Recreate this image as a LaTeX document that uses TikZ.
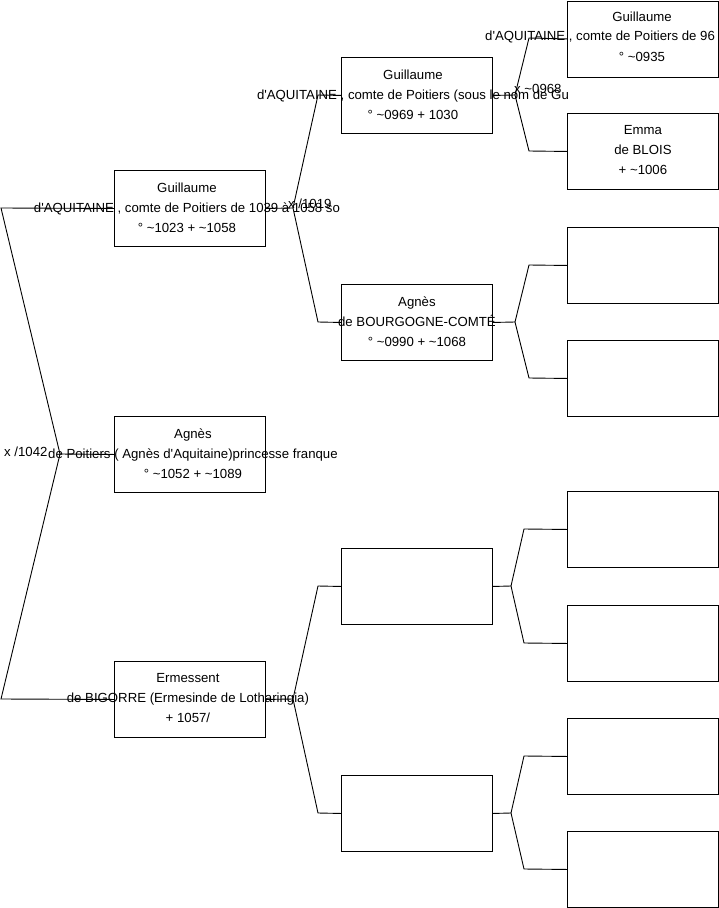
\documentclass[tikz,border=0pt]{standalone}
\usepackage{fontspec}
\setmainfont{Liberation Sans}
\newcommand{\ap}{\textquotesingle}
\begin{document}
\begin{tikzpicture}[x=1pt,y=-1pt,
  box/.style={draw=black,line width=0.9pt,rectangle,minimum width=151pt,minimum height=76pt,inner sep=0pt,anchor=north west},
  txt/.style={align=center,inner sep=0pt,font=\fontsize{13.2}{20}\selectfont},
  lbl/.style={anchor=west,inner sep=0pt,font=\fontsize{13.2}{20}\selectfont},
  link/.style={draw=black,line width=0.9pt}]
\useasboundingbox (0,0) rectangle (719,908);
% level 1
\node[box] (a1) at (114,170) {};
\node[box] (a2) at (114,416) {};
\node[box] (a3) at (114,661) {};
% level 2
\node[box] (b1) at (341,57) {};
\node[box] (b2) at (341,284) {};
\node[box] (b3) at (341,548) {};
\node[box] (b4) at (341,775) {};
% level 3
\node[box] (c1) at (567,0.5) {};
\node[box] (c2) at (567,113) {};
\node[box] (c3) at (567,227) {};
\node[box] (c4) at (567,340) {};
\node[box] (c5) at (567,491) {};
\node[box] (c6) at (567,605) {};
\node[box] (c7) at (567,718) {};
\node[box] (c8) at (567,831) {};
% fork points
\coordinate (j0) at (60,454);
\coordinate (p01) at (1,208);
\coordinate (p03) at (1,699);
\coordinate (j1) at (293,208);
\coordinate (p11) at (318,95);
\coordinate (p12) at (318,322);
\coordinate (j2) at (293,699);
\coordinate (p23) at (318,586);
\coordinate (p24) at (318,813);
\coordinate (k1) at (515,95);
\coordinate (q11) at (529,38);
\coordinate (q12) at (529,151);
\coordinate (k2) at (515,322);
\coordinate (q23) at (529,265);
\coordinate (q24) at (529,378);
\coordinate (k3) at (511,586);
\coordinate (q35) at (524,529);
\coordinate (q36) at (524,643);
\coordinate (k4) at (511,813);
\coordinate (q47) at (524,756);
\coordinate (q48) at (524,869);
% connectors
\draw[link] (a2.west) -- (j0) -- (p01) -- (a1.west);
\draw[link] (j0) -- (p03) -- (a3.west);
\draw[link] (a1.east) -- (j1) -- (p11) -- (b1.west);
\draw[link] (j1) -- (p12) -- (b2.west);
\draw[link] (a3.east) -- (j2) -- (p23) -- (b3.west);
\draw[link] (j2) -- (p24) -- (b4.west);
\draw[link] (b1.east) -- (k1) -- (q11) -- (c1.west);
\draw[link] (k1) -- (q12) -- (c2.west);
\draw[link] (b2.east) -- (k2) -- (q23) -- (c3.west);
\draw[link] (k2) -- (q24) -- (c4.west);
\draw[link] (b3.east) -- (k3) -- (q35) -- (c5.west);
\draw[link] (k3) -- (q36) -- (c6.west);
\draw[link] (b4.east) -- (k4) -- (q47) -- (c7.west);
\draw[link] (k4) -- (q48) -- (c8.west);
% texts
\node[txt] (ta1) at ([xshift=-3pt,yshift=1pt]a1.center) {Guillaume\\d\ap AQUITAINE , comte de Poitiers de 1039 à 1058 so\\° \textasciitilde1023 + \textasciitilde1058};
\node[txt] (ta2) at ([xshift=3pt,yshift=1pt]a2.center) {Agnès\\de Poitiers ( Agnès d\ap Aquitaine)princesse franque\\° \textasciitilde1052 + \textasciitilde1089};
\node[txt] (ta3) at ([xshift=-2pt,yshift=1pt]a3.center) {Ermessent\\de BIGORRE (Ermesinde de Lotharingia)\\+ 1057/};
\node[txt] (tb1) at ([xshift=-4pt,yshift=1pt]b1.center) {Guillaume\\d\ap AQUITAINE , comte de Poitiers (sous le nom de Gu\\° \textasciitilde0969 + 1030};
\node[txt] (tb2) at ([yshift=1pt]b2.center) {Agnès\\de BOURGOGNE-COMTÉ\\° \textasciitilde0990 + \textasciitilde1068};
\node[txt] (tc1a) at (642,17) {Guillaume};
\node[lbl] (tc1b) at (485,37) {d\ap AQUITAINE , comte de Poitiers de 96};
\node[txt] (tc1c) at (642,57) {° \textasciitilde0935};
\node[txt] (tc2) at ([yshift=1pt]c2.center) {Emma\\de BLOIS\\+ \textasciitilde1006};
% marriage labels
\node[lbl] (m0) at (4,452) {x /1042};
\node[lbl] (m1) at (288,204) {x /1019};
\node[lbl] (m2) at (514,89) {x \textasciitilde0968};
\end{tikzpicture}
\end{document}
